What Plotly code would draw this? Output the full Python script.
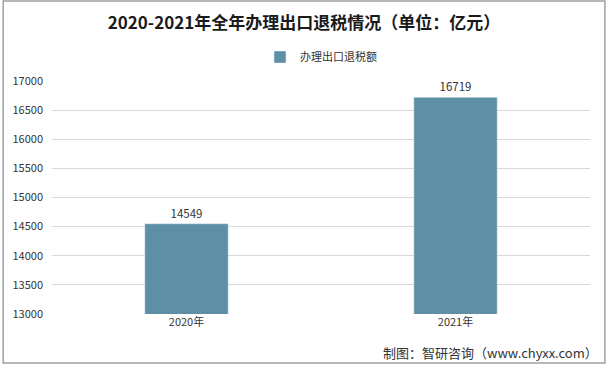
import plotly.graph_objects as go

categories = ["2020年", "2021年"]
values = [14549, 16719]
series_name = "办理出口退税额"
title_text = "2020-2021年全年办理出口退税情况（单位：亿元）"
source_text = "制图：智研咨询（www.chyxx.com）"

W, H = 608, 366
L, R, T, B = 50, 18, 81, 52
pw, ph = W - L - R, H - T - B

fig = go.Figure()
fig.add_trace(go.Bar(
    x=categories, y=values, name=series_name,
    marker=dict(color="#5E8FA7"),
    width=0.31,
    text=[str(v) for v in values], textposition="outside",
    textfont=dict(size=11.5, color="#333333"),
    cliponaxis=False,
))

fig.update_layout(
    width=W, height=H,
    margin=dict(l=L, r=R, t=T, b=B),
    paper_bgcolor="white", plot_bgcolor="white",
    font=dict(family="Noto Sans CJK SC, sans-serif", size=11, color="#333333"),
    title=dict(text="<b>" + title_text + "</b>", x=0.5, xanchor="center",
               y=1 - 23 / H, yanchor="middle",
               font=dict(size=17, color="#1a1a1a")),
    showlegend=True,
    legend=dict(orientation="h", x=0.5, xanchor="center", y=1 + 24 / ph, yanchor="middle",
                font=dict(size=11, color="#333333"), itemwidth=30),
    bargap=0.69,
    xaxis=dict(showline=False, ticks="", tickfont=dict(size=11, color="#333333")),
    yaxis=dict(range=[13000, 17000], dtick=500, tickformat="d", showgrid=True, gridcolor="#d9d9d9",
               zeroline=False, showline=False, ticks="", ticklabelstandoff=8,
               tickfont=dict(size=11, color="#333333")),
    shapes=[dict(type="rect", xref="paper", yref="paper",
                 x0=(-L + 1) / pw, x1=(W - L - 3) / pw,
                 y0=(-B + 3) / ph, y1=(H - B - 1) / ph,
                 line=dict(color="#a0a0a0", width=1.5), fillcolor="rgba(0,0,0,0)")],
    annotations=[dict(text=source_text, xref="paper", yref="paper",
                      x=(W - 8 - L) / pw, xanchor="right",
                      y=-(352 - T - ph) / ph, yanchor="middle",
                      showarrow=False, font=dict(size=13, color="#333333"))],
)

fig.write_html("out.html", config={"displayModeBar": False},
               post_script="document.body.style.margin='0';document.body.style.overflow='hidden';"
                           "document.documentElement.style.overflow='hidden';")
